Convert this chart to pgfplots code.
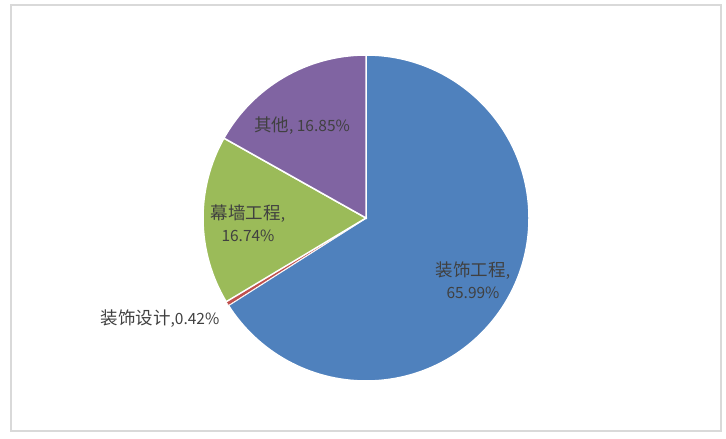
\documentclass[border=0pt]{standalone}
\usepackage{fontspec}
\setmainfont{Noto Sans CJK SC}
\usepackage{pgfplots}
\pgfplotsset{compat=1.18}
\usepackage{pgfplotstable}

\definecolor{pblue}{HTML}{4F81BD}
\definecolor{pred}{HTML}{C0504D}
\definecolor{pgreen}{HTML}{9BBB59}
\definecolor{ppurple}{HTML}{8064A2}
\definecolor{labeltext}{HTML}{404040}
\definecolor{framegray}{HTML}{D9D9D9}

% shares in percent, clockwise from 12 o'clock
\pgfplotstableread{
value
65.99
0.42
16.74
16.85
}\piedata

% CJK glyphs a bit larger than the digits, as in the reference
\newcommand\zh[1]{{\fontsize{17.5bp}{22bp}\selectfont #1}}

\begin{document}
\begin{tikzpicture}
\pgfplotstablegetelem{0}{value}\of\piedata \let\vA\pgfplotsretval
\pgfplotstablegetelem{1}{value}\of\piedata \let\vB\pgfplotsretval
\pgfplotstablegetelem{2}{value}\of\piedata \let\vC\pgfplotsretval
\pgfplotstablegetelem{3}{value}\of\piedata \let\vD\pgfplotsretval
\pgfmathsetmacro\aA{90}
\pgfmathsetmacro\aB{\aA-3.6*\vA}
\pgfmathsetmacro\aC{\aB-3.6*\vB}
\pgfmathsetmacro\aD{\aC-3.6*\vC}
\pgfmathsetmacro\aE{\aD-3.6*\vD}
\def\R{163bp}
\begin{axis}[
    width=726bp, height=439bp, scale only axis,
    xmin=0, xmax=726, ymin=0, ymax=439,
    hide axis, clip=false,
]
\path (axis cs:0,0) rectangle (axis cs:726,439);
\draw[framegray, line width=1.5bp] (axis cs:11,434) rectangle (axis cs:721,8);
\filldraw[pblue, draw=white, line width=1.5bp] (axis cs:366,221) -- ++(\aA:\R) arc[start angle=\aA, end angle=\aB, radius=\R] -- cycle;
\filldraw[pred, draw=white, line width=0.6bp] (axis cs:366,221) -- ++(\aB:\R) arc[start angle=\aB, end angle=\aC, radius=\R] -- cycle;
\filldraw[pgreen, draw=white, line width=1.5bp] (axis cs:366,221) -- ++(\aC:\R) arc[start angle=\aC, end angle=\aD, radius=\R] -- cycle;
\filldraw[ppurple, draw=white, line width=1.5bp] (axis cs:366,221) -- ++(\aD:\R) arc[start angle=\aD, end angle=\aE, radius=\R] -- cycle;

\tikzset{lbl/.style={text=labeltext, font=\fontsize{15.5bp}{22bp}\selectfont, align=center, inner sep=0pt}}
\node[lbl] at (axis cs:302,313) {\zh{其他}, 16.85\%};
\node[lbl] at (axis cs:248,216) {\zh{幕墙工程},\\16.74\%};
\node[lbl] at (axis cs:473,159) {\zh{装饰工程},\\65.99\%};
\node[lbl] at (axis cs:160,120) {\zh{装饰设计},0.42\%};
\end{axis}
\end{tikzpicture}
\end{document}
